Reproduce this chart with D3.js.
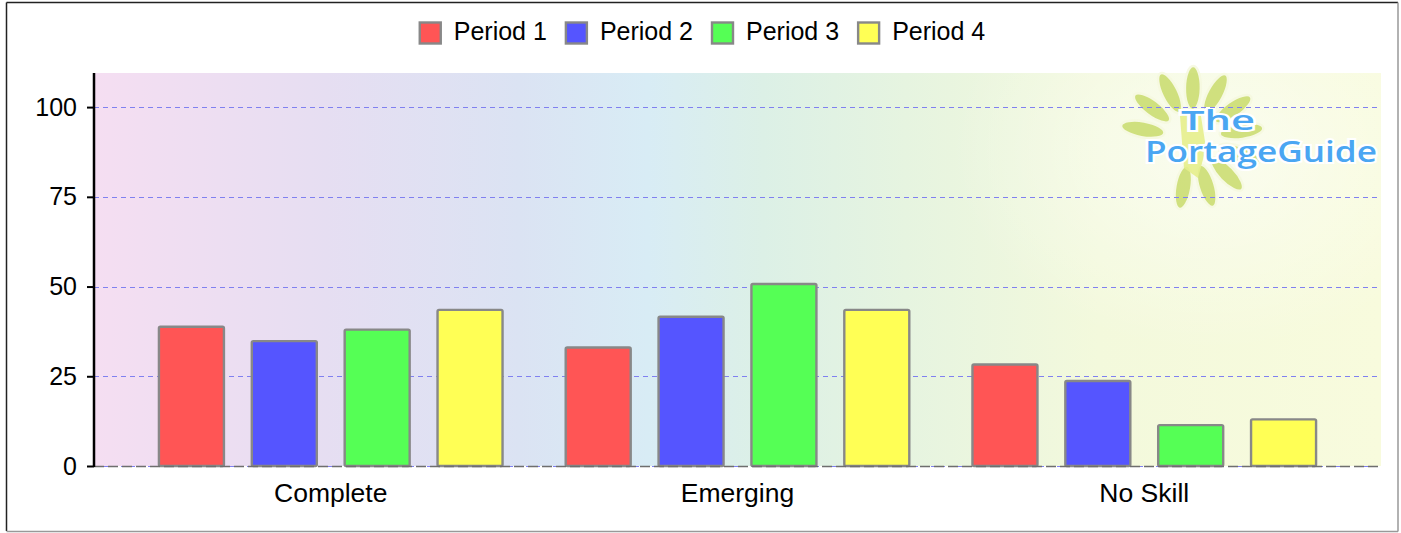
<!DOCTYPE html>
<html>
<head>
<meta charset="utf-8">
<script src="https://cdn.jsdelivr.net/npm/d3@7"></script>
<style>
  body { margin: 0; background: #fff; }
  svg { display: block; font-family: "Liberation Sans", Arial, sans-serif; }
</style>
</head>
<body>
<svg width="1401" height="533"></svg>
<script>
var categories = ["Complete", "Emerging", "No Skill"];
var periods = ["Period 1", "Period 2", "Period 3", "Period 4"];
var colors = ["#ff5555", "#5555ff", "#55ff55", "#ffff55"];
// one array per period, values per category
var period1 = [38.8, 33.0, 28.3];
var period2 = [34.8, 41.6, 23.7];
var period3 = [38.0, 50.7, 11.4];
var period4 = [43.5, 43.5, 13.0];
var yTicks = [0, 25, 50, 75, 100];

var series = [period1, period2, period3, period4];

var svg = d3.select("svg");
var plotLeft = 94, plotRight = 1381, plotTop = 73, plotBottom = 466;

// frame
svg.append("line").attr("x1", 6.5).attr("y1", 2.5).attr("x2", 1398).attr("y2", 2.5).attr("stroke", "#222").attr("stroke-width", 1.5);
svg.append("line").attr("x1", 6.5).attr("y1", 2.5).attr("x2", 6.5).attr("y2", 531).attr("stroke", "#222").attr("stroke-width", 1.5);
svg.append("line").attr("x1", 1398).attr("y1", 2.5).attr("x2", 1398).attr("y2", 531.5).attr("stroke", "#999").attr("stroke-width", 1.5);
svg.append("line").attr("x1", 6.5).attr("y1", 531.5).attr("x2", 1398).attr("y2", 531.5).attr("stroke", "#999").attr("stroke-width", 1.5);

// plot background
var defs = svg.append("defs");
var grad = defs.append("linearGradient").attr("id", "bg");
[["0%", "#f5def2"], ["18%", "#e6def2"], ["33%", "#dbe3f3"], ["43%", "#d8ecf5"], ["52%", "#dcf0e6"], ["63%", "#e6f4e0"], ["78%", "#f3f9dc"], ["100%", "#f8fbdd"]]
    .forEach(function (s) { grad.append("stop").attr("offset", s[0]).attr("stop-color", s[1]); });
var glow = defs.append("radialGradient").attr("id", "glow").attr("cx", "0.5").attr("cy", "0.5").attr("r", "0.5");
glow.append("stop").attr("offset", "0%").attr("stop-color", "#fff").attr("stop-opacity", 0.55);
glow.append("stop").attr("offset", "100%").attr("stop-color", "#fff").attr("stop-opacity", 0);
defs.append("clipPath").attr("id", "plotclip").append("rect")
    .attr("x", plotLeft).attr("y", plotTop).attr("width", plotRight - plotLeft).attr("height", plotBottom - plotTop);

svg.append("rect").attr("x", plotLeft).attr("y", plotTop).attr("width", plotRight - plotLeft).attr("height", plotBottom - plotTop).attr("fill", "url(#bg)");
svg.append("ellipse").attr("cx", 1210).attr("cy", 150).attr("rx", 260).attr("ry", 200).attr("fill", "url(#glow)")
    .attr("clip-path", "url(#plotclip)");

// logo
var logo = svg.append("g").attr("transform", "translate(1192,138)");
d3.range(11).forEach(function (i) {
    var a = -170 + i * 27;
    logo.append("ellipse")
        .attr("transform", "rotate(" + a + ") translate(50,0)")
        .attr("rx", 22).attr("ry", 8)
        .attr("fill", "#c9dc6c").attr("stroke", "#f6f9e0").attr("stroke-width", 2.5).attr("opacity", 0.85);
});
logo.append("path").attr("d", "M-12,-22 L8,-28 L14,10 L6,40 L-8,30 Z").attr("fill", "#e6ee8c").attr("opacity", 0.9);
logo.append("text").attr("x", 26).attr("y", -8).attr("text-anchor", "middle")
    .attr("font-size", 27).attr("font-weight", 600).attr("font-family", "'Open Sans', sans-serif")
    .attr("textLength", 74).attr("lengthAdjust", "spacingAndGlyphs")
    .attr("fill", "#4aa6f2").attr("stroke", "#fff").attr("stroke-width", 4).attr("paint-order", "stroke").text("The");
logo.append("text").attr("x", 69).attr("y", 24).attr("text-anchor", "middle")
    .attr("font-size", 28).attr("font-weight", 600).attr("font-family", "'Open Sans', sans-serif")
    .attr("textLength", 232).attr("lengthAdjust", "spacingAndGlyphs")
    .attr("fill", "#4aa6f2").attr("stroke", "#fff").attr("stroke-width", 4).attr("paint-order", "stroke").text("PortageGuide");

// scales
var x0 = d3.scaleBand().domain(categories).range([plotLeft, plotRight]).paddingInner(0).paddingOuter(0.082);
var x1 = d3.scaleBand().domain(d3.range(periods.length)).range([0, x0.bandwidth()]).paddingInner(0.3).paddingOuter(0.34);
var y = d3.scaleLinear().domain([0, 109.5]).range([plotBottom, plotTop]);

// gridlines
svg.append("g").selectAll("line").data(yTicks).enter().append("line")
    .attr("x1", plotLeft).attr("x2", plotRight)
    .attr("y1", function (d) { return Math.round(y(d)) + 0.5; })
    .attr("y2", function (d) { return Math.round(y(d)) + 0.5; })
    .attr("shape-rendering", "crispEdges")
    .attr("stroke", "#8080f0").attr("stroke-width", 1).attr("stroke-dasharray", "5,4");

// bars
var groups = svg.append("g").selectAll("g").data(categories).enter().append("g")
    .attr("transform", function (d) { return "translate(" + x0(d) + ",0)"; });
groups.selectAll("rect")
    .data(function (d, ci) { return series.map(function (s, pi) { return {p: pi, v: s[ci]}; }); })
    .enter().append("rect")
    .attr("x", function (d) { return x1(d.p); })
    .attr("y", function (d) { return y(d.v); })
    .attr("width", x1.bandwidth())
    .attr("height", function (d) { return plotBottom - y(d.v); })
    .attr("rx", 1.5)
    .attr("fill", function (d) { return colors[d.p]; })
    .attr("stroke", "#888").attr("stroke-width", 2.4);

// x baseline
svg.append("line").attr("x1", plotLeft).attr("x2", plotRight).attr("y1", plotBottom + 0.5).attr("y2", plotBottom + 0.5)
    .attr("stroke", "#6e6e6e").attr("stroke-width", 1.5).attr("stroke-dasharray", "10,4");

// y axis
var yAxis = svg.append("g").attr("transform", "translate(" + plotLeft + ",0)")
    .call(d3.axisLeft(y).tickValues(yTicks).tickSize(7).tickPadding(10).tickSizeOuter(0));
yAxis.select(".domain").attr("stroke", "#000").attr("stroke-width", 2.5).attr("d", "M0," + plotTop + "V" + (plotBottom + 1));
yAxis.selectAll(".tick line").attr("stroke", "#000").attr("stroke-width", 2);
yAxis.selectAll("text").attr("font-size", 25).attr("font-family", "'Liberation Sans', Arial, sans-serif").attr("fill", "#000");

// x labels
var xAxis = svg.append("g").attr("transform", "translate(0," + plotBottom + ")")
    .call(d3.axisBottom(x0).tickSize(0).tickPadding(17));
xAxis.select(".domain").remove();
xAxis.selectAll("text").attr("font-size", 26.5).attr("font-family", "'Liberation Sans', Arial, sans-serif").attr("fill", "#000");

// legend
var legend = svg.append("g");
var lx = 0;
periods.forEach(function (p, i) {
    var g = legend.append("g").attr("transform", "translate(" + lx + ",0)");
    g.append("rect").attr("x", 1).attr("y", 22.5).attr("width", 21).attr("height", 21)
        .attr("fill", colors[i]).attr("stroke", "#888").attr("stroke-width", 2.4);
    var t = g.append("text").attr("x", 35).attr("y", 40).attr("font-size", 25).attr("fill", "#000").text(p);
    lx += 35 + t.node().getComputedTextLength() + 18;
});
var lw = lx - 18;
legend.attr("transform", "translate(" + (702 - lw / 2) + ",0)");
</script>
</body>
</html>
